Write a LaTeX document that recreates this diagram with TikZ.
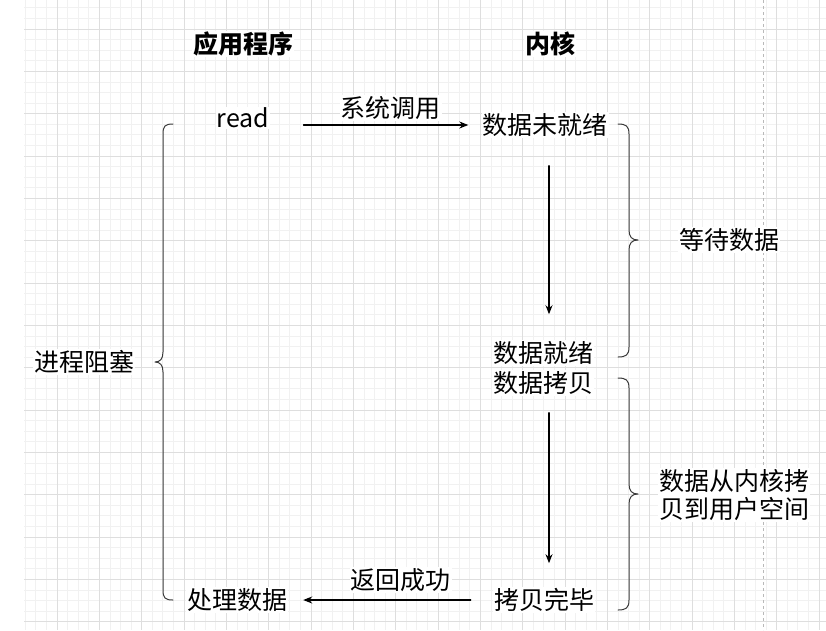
\documentclass[tikz,border=0pt]{standalone}
\usepackage{fontspec}
\setmainfont{Noto Sans CJK SC}
\usetikzlibrary{arrows.meta}
\definecolor{gridmajor}{HTML}{DEDEDE}
\definecolor{gridminor}{HTML}{F1F1F1}
\definecolor{bracecol}{HTML}{3A3A3A}
\tikzset{
  txt/.style={fill=white,inner sep=1pt,font=\fontsize{25}{28}\selectfont},
  head/.style={txt,font=\fontsize{25}{28}\selectfont\bfseries},
  flow/.style={-{Stealth[length=9pt,width=7pt]},line width=1.1pt},
  bracket/.style={draw=bracecol,line width=1pt},
  every picture/.style={line cap=round,line join=round}
}

\begin{document}
\begin{tikzpicture}[x=1pt,y=-1pt]
  \useasboundingbox (0,0) rectangle (826,630);
  % grid
  \foreach \i in {0,...,75}
    \draw[gridminor,line width=0.8pt,line cap=butt] ({25.25+10.583*\i},0) -- ++(0,630);
  \foreach \j in {0,...,58}
    \draw[gridminor,line width=0.8pt,line cap=butt] (24,{7.83+10.583*\j}) -- ++(802,0);
  \foreach \i in {0,...,18}
    \draw[gridmajor,line width=0.9pt,line cap=butt] ({57+42.33*\i},0) -- ++(0,630);
  \foreach \j in {0,...,14}
    \draw[gridmajor,line width=0.9pt,line cap=butt] (24,{29+42.33*\j}) -- ++(802,0);
  \draw[gray!55,dashed,line cap=butt] (763,0) -- (763,630);

  \node[head] (app) at (243,44) {应用程序};
  \node[head] (kern) at (550,44) {内核};
  \node[txt] (read) at (243,118) {read};
  \node[txt] (notready) at (545,125) {数据未就绪};
  \node[txt] (ready) at (543,353) {数据就绪};
  \node[txt] (copy) at (543,383) {数据拷贝};
  \node[txt] (done) at (544,600) {拷贝完毕};
  \node[txt] (proc) at (237,600) {处理数据};
  \node[txt] (block) at (84,362) {进程阻塞};
  \node[txt] (wait) at (729,240) {等待数据};
  \node[txt,align=center] (tocopy) at (734,495) {数据从内核拷\\贝到用户空间};

  \draw[flow,shorten <=33pt,shorten >=13pt] (read.east |- notready.west) --
    node[txt,pos=0.57,yshift=17pt] {系统调用} (notready.west);
  \draw[flow,shorten <=28pt,shorten >=26pt] ([xshift=4pt]notready.south) --
    ([xshift=4pt]notready.south |- ready.north);
  \draw[flow,shorten <=17pt,shorten >=24pt] ([xshift=6pt]copy.south) --
    ([xshift=6pt]copy.south |- done.north);
  \draw[flow,shorten <=22pt,shorten >=15pt] (done.west) --
    node[txt,pos=0.45,yshift=20pt] {返回成功} (done.west -| proc.east);

  % braces
  \draw[bracket] (173,124) .. controls (165,124) and (163,126) .. (163,134) -- (163,352)
    .. controls (163,359) and (160,362) .. (155,362) .. controls (160,362) and (163,365) .. (163,372)
    -- (163,590) .. controls (163,598) and (165,600) .. (173,600);
  \draw[bracket] (618,124) .. controls (626,124) and (629,126) .. (629,134) -- (629,230)
    .. controls (629,237) and (632,240) .. (638,240) .. controls (632,240) and (629,243) .. (629,250)
    -- (629,347) .. controls (629,355) and (626,357) .. (618,357);
  \draw[bracket] (618,378) .. controls (626,378) and (629,380) .. (629,388) -- (629,484)
    .. controls (629,491) and (632,494) .. (638,494) .. controls (632,494) and (629,497) .. (629,504)
    -- (629,600) .. controls (629,608) and (626,610) .. (618,610);
\end{tikzpicture}
\end{document}
